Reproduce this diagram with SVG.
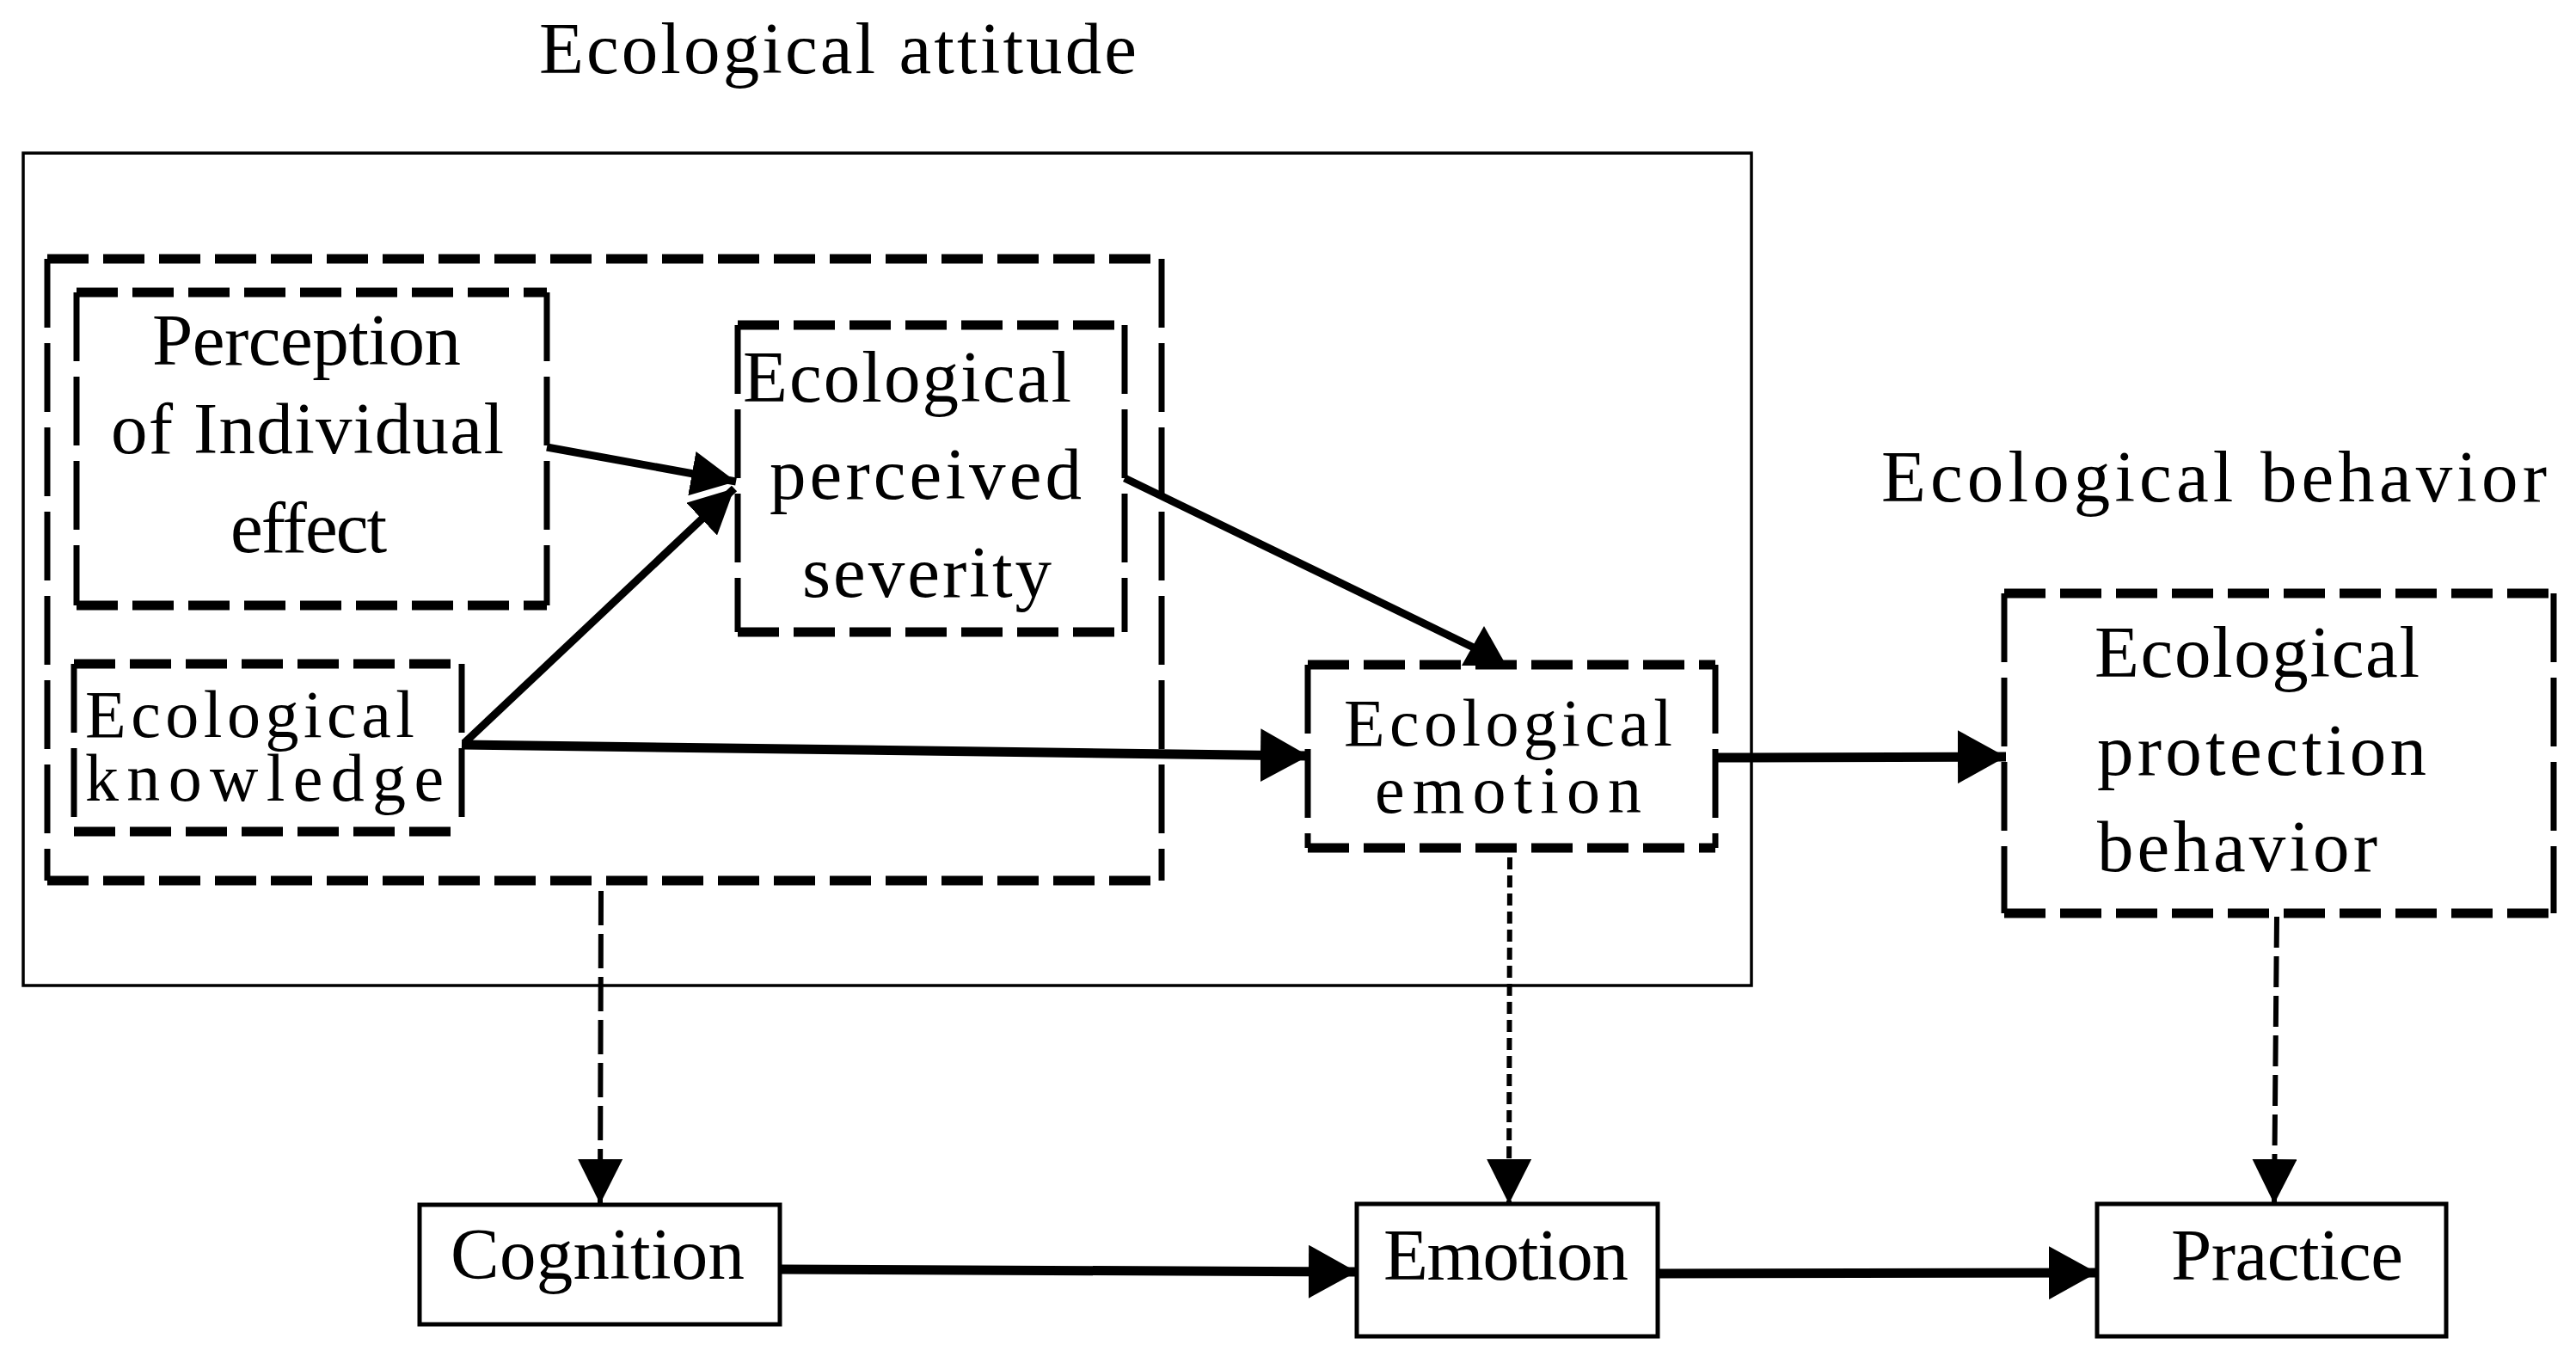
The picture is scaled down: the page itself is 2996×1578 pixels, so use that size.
<svg xmlns="http://www.w3.org/2000/svg" width="2996" height="1578" viewBox="0 0 2996 1578">
<style>
text{font-family:"Liberation Serif","Times New Roman",serif;font-size:85px;fill:#000}
text.tight{font-size:78px}
.h{stroke:#000;stroke-width:11;stroke-dasharray:48 17;fill:none}
.v{stroke:#000;stroke-width:7;stroke-dasharray:80 18;fill:none}
.solid{fill:#fff;stroke:#000;stroke-width:5}
.outer{fill:none;stroke:#000;stroke-width:3.5}
.thick{stroke:#000;stroke-width:11;fill:none}
.mid{stroke:#000;stroke-width:9;fill:none}
.dash1{stroke:#000;stroke-width:6;fill:none;stroke-dasharray:40 10}
.dash2{stroke:#000;stroke-width:6;fill:none;stroke-dasharray:14 7}
.dash3{stroke:#000;stroke-width:6;fill:none;stroke-dasharray:36 10}
</style>
<defs>
<marker id="arr" markerUnits="userSpaceOnUse" markerWidth="56" markerHeight="62" refX="56" refY="31" orient="auto" viewBox="0 0 56 62">
<path d="M0,0 L56,31 L0,62 z" fill="#000"/>
</marker>
<marker id="arrs" markerUnits="userSpaceOnUse" markerWidth="52" markerHeight="52" refX="52" refY="26" orient="auto" viewBox="0 0 52 52">
<path d="M0,0 L52,26 L0,52 z" fill="#000"/>
</marker>
</defs>
<rect width="2996" height="1578" fill="#fff"/>

<g id="title-attitude">
<text x="627" y="85" textLength="695" lengthAdjust="spacing">Ecological attitude</text>
</g>
<g id="title-behavior">
<text x="2188" y="583" textLength="774" lengthAdjust="spacing">Ecological behavior</text>
</g>

<g id="attitude-frame">
<rect class="outer" x="27" y="178" width="2010" height="968"/>
</g>

<g id="cognition-group">
<line class="h" x1="55" y1="301" x2="1351" y2="301"/>
<line class="h" x1="55" y1="1024" x2="1351" y2="1024"/>
<line class="v" x1="55" y1="301" x2="55" y2="1024"/>
<line class="v" x1="1351" y1="301" x2="1351" y2="1024"/>
</g>

<g id="perception">
<line class="h" x1="89" y1="340" x2="636" y2="340"/>
<line class="h" x1="89" y1="704" x2="636" y2="704"/>
<line class="v" x1="89" y1="340" x2="89" y2="704"/>
<line class="v" x1="636" y1="340" x2="636" y2="704"/>
<text x="177" y="424" textLength="359" lengthAdjust="spacing">Perception</text>
<text x="129" y="527" textLength="457" lengthAdjust="spacing">of Individual</text>
<text x="268" y="642" textLength="182" lengthAdjust="spacing">effect</text>
</g>

<g id="severity">
<line class="h" x1="858" y1="378" x2="1308" y2="378"/>
<line class="h" x1="858" y1="735" x2="1308" y2="735"/>
<line class="v" x1="858" y1="378" x2="858" y2="735"/>
<line class="v" x1="1308" y1="378" x2="1308" y2="735"/>
<text x="864" y="467" textLength="382" lengthAdjust="spacing">Ecological</text>
<text x="895" y="580" textLength="363" lengthAdjust="spacing">perceived</text>
<text x="933" y="694" textLength="290" lengthAdjust="spacing">severity</text>
</g>

<g id="knowledge">
<line class="h" x1="86" y1="772" x2="537" y2="772"/>
<line class="h" x1="86" y1="967" x2="537" y2="967"/>
<line class="v" x1="86" y1="772" x2="86" y2="967"/>
<line class="v" x1="537" y1="772" x2="537" y2="967"/>
<text class="tight" x="99" y="857" textLength="383" lengthAdjust="spacing">Ecological</text>
<text class="tight" x="99" y="931" textLength="417" lengthAdjust="spacing">knowledge</text>
</g>

<g id="eco-emotion">
<line class="h" x1="1521" y1="773" x2="1995" y2="773"/>
<line class="h" x1="1521" y1="986" x2="1995" y2="986"/>
<line class="v" x1="1521" y1="773" x2="1521" y2="986"/>
<line class="v" x1="1995" y1="773" x2="1995" y2="986"/>
<text class="tight" x="1563" y="867" textLength="382" lengthAdjust="spacing">Ecological</text>
<text class="tight" x="1599" y="945" textLength="310" lengthAdjust="spacing">emotion</text>
</g>

<g id="protection">
<line class="h" x1="2331" y1="690" x2="2970" y2="690"/>
<line class="h" x1="2331" y1="1062" x2="2970" y2="1062"/>
<line class="v" x1="2331" y1="690" x2="2331" y2="1062"/>
<line class="v" x1="2970" y1="690" x2="2970" y2="1062"/>
<text x="2436" y="787" textLength="378" lengthAdjust="spacing">Ecological</text>
<text x="2439" y="901" textLength="383" lengthAdjust="spacing">protection</text>
<text x="2439" y="1013" textLength="326" lengthAdjust="spacing">behavior</text>
</g>

<g id="cognition">
<rect class="solid" x="488" y="1401" width="419" height="139"/>
<text x="524" y="1487" textLength="342" lengthAdjust="spacing">Cognition</text>
</g>
<g id="emotion">
<rect class="solid" x="1578" y="1400" width="350" height="154"/>
<text x="1609" y="1488" textLength="285" lengthAdjust="spacing">Emotion</text>
</g>
<g id="practice">
<rect class="solid" x="2439" y="1400" width="406" height="154"/>
<text x="2525" y="1488" textLength="270" lengthAdjust="spacing">Practice</text>
</g>

<g id="connectors">
<line class="mid" x1="636" y1="520" x2="856" y2="560" marker-end="url(#arrs)"/>
<line class="mid" x1="540" y1="864" x2="854" y2="568" marker-end="url(#arrs)"/>
<line class="mid" x1="1308" y1="556" x2="1720" y2="756"/>
<polygon points="1726,728 1752,774 1700,774" fill="#000"/>
<line class="thick" x1="537" y1="866" x2="1522" y2="879" marker-end="url(#arr)"/>
<line class="thick" x1="1995" y1="881" x2="2333" y2="880" marker-end="url(#arr)"/>
<line class="thick" x1="907" y1="1476" x2="1578" y2="1479" marker-end="url(#arr)"/>
<line class="thick" x1="1928" y1="1481" x2="2439" y2="1480" marker-end="url(#arr)"/>
<line class="dash1" x1="699" y1="1036" x2="698" y2="1400" marker-end="url(#arrs)"/>
<line class="dash2" x1="1756" y1="997" x2="1755" y2="1400" marker-end="url(#arrs)"/>
<line class="dash3" x1="2648" y1="1066" x2="2645" y2="1400" marker-end="url(#arrs)"/>
</g>
</svg>
